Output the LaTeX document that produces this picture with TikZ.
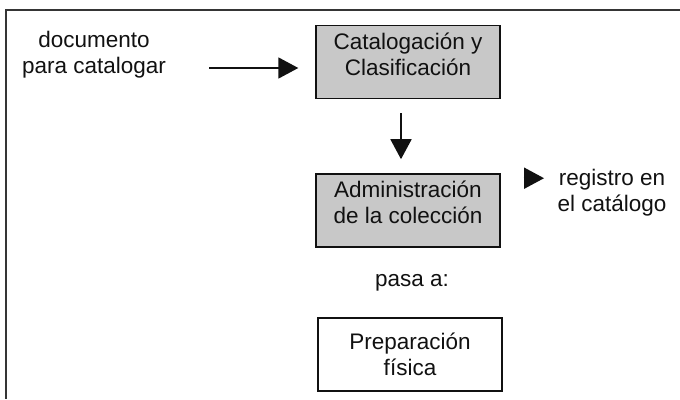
\documentclass[tikz,border=0pt]{standalone}
\usepackage{fontspec}
\setmainfont{Liberation Sans}
\usetikzlibrary{arrows.meta,positioning}
\usepackage{xcolor}
\definecolor{ink}{HTML}{111111}
\definecolor{shade}{HTML}{C8C8C8}
\tikzset{
  >={Triangle[length=20pt,width=21pt]},
  every node/.style={font=\fontsize{22.5}{26}\selectfont,text=ink,align=center},
  box/.style={draw=ink,line width=1.4pt,minimum width=184pt,minimum height=73pt,inner sep=0pt},
  graybox/.style={box,fill=shade,text depth=16pt},
  arrow/.style={->,line width=1.8pt,draw=ink},
  frame/.style={line width=1.5pt,draw=ink!85},
}
\begin{document}
\begin{tikzpicture}[x=1pt,y=-1pt]
\useasboundingbox (0,0) rectangle (680,399);
\draw[frame] (680,10) -- (6,10) -- (6,399);

\node[graybox] (cat) at (408,62) {Catalogación y\\Clasificación};
\node[graybox,below=74pt of cat] (adm) {Administración\\de la colección};
\node (doc) at (94,55) {documento\\para catalogar};
\node (reg) at (612,193) {registro en\\el catálogo};
\node (pasa) at (412,283) {pasa a:};
\node[box] (prep) at (410,354.5) {Preparación\\física};

\coordinate[below=6pt of cat.west] (catin);
\coordinate[below=5pt of adm.north east] (admout);

\draw[arrow,shorten <=40pt,shorten >=17pt] (catin -| doc.east) -- (catin);
\draw[arrow,shorten <=14pt,shorten >=14pt] ([xshift=-7pt]cat.south) -- ([xshift=-7pt]adm.north);
\draw[arrow,shorten <=23pt,shorten >=10pt] (admout) -- (admout -| reg.west);

\end{tikzpicture}
\end{document}
